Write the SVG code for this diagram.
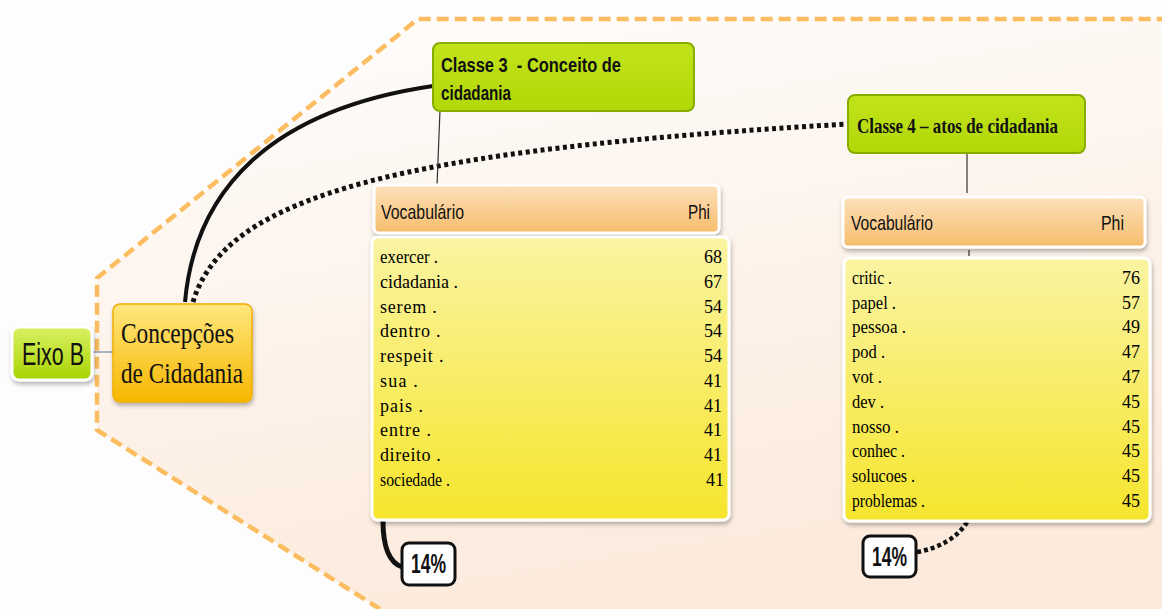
<svg xmlns="http://www.w3.org/2000/svg" width="1162" height="609" viewBox="0 0 1162 609">
<defs>
<linearGradient id="bgFill" x1="0" y1="0" x2="0.3" y2="1">
<stop offset="0" stop-color="#fefdfc"/><stop offset="1" stop-color="#fcebdd"/>
</linearGradient>
<linearGradient id="gEixo" x1="0" y1="0" x2="0" y2="1">
<stop offset="0" stop-color="#d9f165"/><stop offset="1" stop-color="#a8d300"/>
</linearGradient>
<linearGradient id="gConc" x1="0" y1="0" x2="0" y2="1">
<stop offset="0" stop-color="#ffe77e"/><stop offset="1" stop-color="#f7b700"/>
</linearGradient>
<linearGradient id="gClasse" x1="0" y1="0" x2="0" y2="1">
<stop offset="0" stop-color="#c2e31a"/><stop offset="1" stop-color="#b2d808"/>
</linearGradient>
<linearGradient id="gHead" x1="0" y1="0" x2="0" y2="1">
<stop offset="0" stop-color="#fde0bb"/><stop offset="1" stop-color="#f6bd6c"/>
</linearGradient>
<linearGradient id="gBody" x1="0" y1="0" x2="0" y2="1">
<stop offset="0" stop-color="#faf4a2"/><stop offset="1" stop-color="#f6e52c"/>
</linearGradient>
<filter id="sh" x="-10%" y="-10%" width="125%" height="130%">
<feDropShadow dx="1" dy="3" stdDeviation="2" flood-color="#000" flood-opacity="0.28"/>
</filter>
</defs>
<style>
.sans{font-family:"Liberation Sans",Arial,sans-serif;fill:#111}
.serif{font-family:"Liberation Serif","Times New Roman",serif;fill:#111}
.row{font-family:"Liberation Serif","Times New Roman",serif;font-size:18px;fill:#000}
.num{font-family:"Liberation Serif","Times New Roman",serif;font-size:18px;fill:#000;text-anchor:end}
.head{fill:url(#gHead);stroke:#fff;stroke-width:3}
.body{fill:url(#gBody);stroke:#fff;stroke-width:3}
.classe{fill:url(#gClasse);stroke:#86ad00;stroke-width:2}
.pct{fill:#fff;stroke:#111;stroke-width:3}
</style>
<rect width="1162" height="609" fill="#fdfdfd"/>
<path d="M97,430 L97,278 L418,19 L1162,19 L1162,609 L380,609 Z" fill="url(#bgFill)"/>
<path d="M380,609 L97,430 L97,278 L418,19 L1162,19" fill="none" stroke="#fbbd5f" stroke-width="4.5" stroke-dasharray="12 6"/>

<g id="connectors" fill="none">
<line x1="92" y1="352" x2="113" y2="352" stroke="#aab4bf" stroke-width="2"/>
<path d="M185,302 C195,190 270,110 433,86" stroke="#111" stroke-width="4"/>
<path d="M193,302 C225,195 400,150 848,124" stroke="#111" stroke-width="5" stroke-dasharray="4 3.5"/>
<line x1="440" y1="110" x2="437" y2="186" stroke="#333" stroke-width="1.2"/>
<line x1="967" y1="153" x2="967" y2="193" stroke="#333" stroke-width="1.2"/>
<line x1="969" y1="250" x2="969" y2="256" stroke="#333" stroke-width="1.2"/>
<path d="M383,521 C383,545 388,562 402,567" stroke="#111" stroke-width="5"/>
<path d="M917,552 C940,548 958,537 967,522" stroke="#111" stroke-width="4.5" stroke-dasharray="4 3"/>
</g>

<g id="eixo-b">
<rect x="12" y="327" width="80" height="53" rx="7" fill="url(#gEixo)" stroke="#fff" stroke-width="3" filter="url(#sh)"/>
<text x="22" y="365" class="sans" font-size="31" textLength="62" lengthAdjust="spacingAndGlyphs">Eixo B</text>
</g>

<g id="concepcoes">
<rect x="113" y="304" width="139" height="98" rx="7" fill="url(#gConc)" stroke="#f0ae00" stroke-width="1.5" filter="url(#sh)"/>
<text x="121" y="343" class="serif" font-size="30" textLength="113" lengthAdjust="spacingAndGlyphs">Concepções</text>
<text x="121" y="383" class="serif" font-size="30" textLength="122" lengthAdjust="spacingAndGlyphs">de Cidadania</text>
</g>

<g id="classe3">
<rect x="433" y="43" width="261" height="68" rx="7" class="classe"/>
<text x="441" y="72" class="sans" font-size="20" font-weight="bold" xml:space="preserve" textLength="180" lengthAdjust="spacingAndGlyphs">Classe 3  - Conceito de</text>
<text x="441" y="100" class="sans" font-size="20" font-weight="bold" textLength="70" lengthAdjust="spacingAndGlyphs">cidadania</text>
</g>

<g id="classe4">
<rect x="848" y="95" width="237" height="58" rx="7" class="classe"/>
<text x="857" y="133" class="serif" font-size="21" font-weight="bold" textLength="201" lengthAdjust="spacingAndGlyphs">Classe 4 – atos de cidadania</text>
</g>

<g id="vocab3-header">
<rect x="374" y="185" width="345" height="48" rx="5" class="head" filter="url(#sh)"/>
<text x="381" y="219" class="sans" font-size="21" textLength="83" lengthAdjust="spacingAndGlyphs">Vocabulário</text>
<text x="688" y="219" class="sans" font-size="21" textLength="22" lengthAdjust="spacingAndGlyphs">Phi</text>
</g>

<g id="vocab3-body">
<rect x="372" y="237" width="357" height="283" rx="6" class="body" filter="url(#sh)"/>
<text class="row" x="380" y="263" textLength="58" lengthAdjust="spacingAndGlyphs">exercer .</text>
<text class="row" x="380" y="288">cidadania .</text>
<text class="row" x="380" y="313" letter-spacing="0.8">serem .</text>
<text class="row" x="380" y="337" letter-spacing="0.8">dentro .</text>
<text class="row" x="380" y="362" letter-spacing="0.8">respeit .</text>
<text class="row" x="380" y="387" letter-spacing="1.2">sua .</text>
<text class="row" x="380" y="412" letter-spacing="1">pais .</text>
<text class="row" x="380" y="436" letter-spacing="1">entre .</text>
<text class="row" x="380" y="461" letter-spacing="0.6">direito .</text>
<text class="row" x="380" y="486" textLength="70" lengthAdjust="spacingAndGlyphs">sociedade .</text>
<text class="num" x="722" y="263">68</text>
<text class="num" x="722" y="288">67</text>
<text class="num" x="722" y="313">54</text>
<text class="num" x="722" y="337">54</text>
<text class="num" x="722" y="362">54</text>
<text class="num" x="722" y="387">41</text>
<text class="num" x="722" y="412">41</text>
<text class="num" x="722" y="436">41</text>
<text class="num" x="722" y="461">41</text>
<text class="num" x="724" y="486">41</text>
</g>

<g id="pct3">
<rect x="402" y="543" width="53" height="42" rx="7" class="pct"/>
<text x="411" y="573" class="sans" font-size="27" font-weight="bold" textLength="35" lengthAdjust="spacingAndGlyphs">14%</text>
</g>

<g id="vocab4-header">
<rect x="843" y="197" width="302" height="50" rx="5" class="head" filter="url(#sh)"/>
<text x="851" y="230" class="sans" font-size="21" textLength="82" lengthAdjust="spacingAndGlyphs">Vocabulário</text>
<text x="1101" y="230" class="sans" font-size="21" textLength="23" lengthAdjust="spacingAndGlyphs">Phi</text>
</g>

<g id="vocab4-body">
<rect x="844" y="258" width="306" height="263" rx="6" class="body" filter="url(#sh)"/>
<text class="row" x="852" y="284" textLength="40" lengthAdjust="spacingAndGlyphs">critic .</text>
<text class="row" x="852" y="309" textLength="44" lengthAdjust="spacingAndGlyphs">papel .</text>
<text class="row" x="852" y="333" textLength="54" lengthAdjust="spacingAndGlyphs">pessoa .</text>
<text class="row" x="852" y="358" textLength="33" lengthAdjust="spacingAndGlyphs">pod .</text>
<text class="row" x="852" y="383" textLength="30" lengthAdjust="spacingAndGlyphs">vot .</text>
<text class="row" x="852" y="408" textLength="32" lengthAdjust="spacingAndGlyphs">dev .</text>
<text class="row" x="852" y="433" textLength="47" lengthAdjust="spacingAndGlyphs">nosso .</text>
<text class="row" x="852" y="457" textLength="53" lengthAdjust="spacingAndGlyphs">conhec .</text>
<text class="row" x="852" y="482" textLength="63" lengthAdjust="spacingAndGlyphs">solucoes .</text>
<text class="row" x="852" y="507" textLength="73" lengthAdjust="spacingAndGlyphs">problemas .</text>
<text class="num" x="1140" y="284">76</text>
<text class="num" x="1140" y="309">57</text>
<text class="num" x="1140" y="333">49</text>
<text class="num" x="1140" y="358">47</text>
<text class="num" x="1140" y="383">47</text>
<text class="num" x="1140" y="408">45</text>
<text class="num" x="1140" y="433">45</text>
<text class="num" x="1140" y="457">45</text>
<text class="num" x="1140" y="482">45</text>
<text class="num" x="1140" y="507">45</text>
</g>

<g id="pct4">
<rect x="863" y="536" width="53" height="41" rx="7" class="pct"/>
<text x="872" y="566" class="sans" font-size="27" font-weight="bold" textLength="35" lengthAdjust="spacingAndGlyphs">14%</text>
</g>
</svg>
